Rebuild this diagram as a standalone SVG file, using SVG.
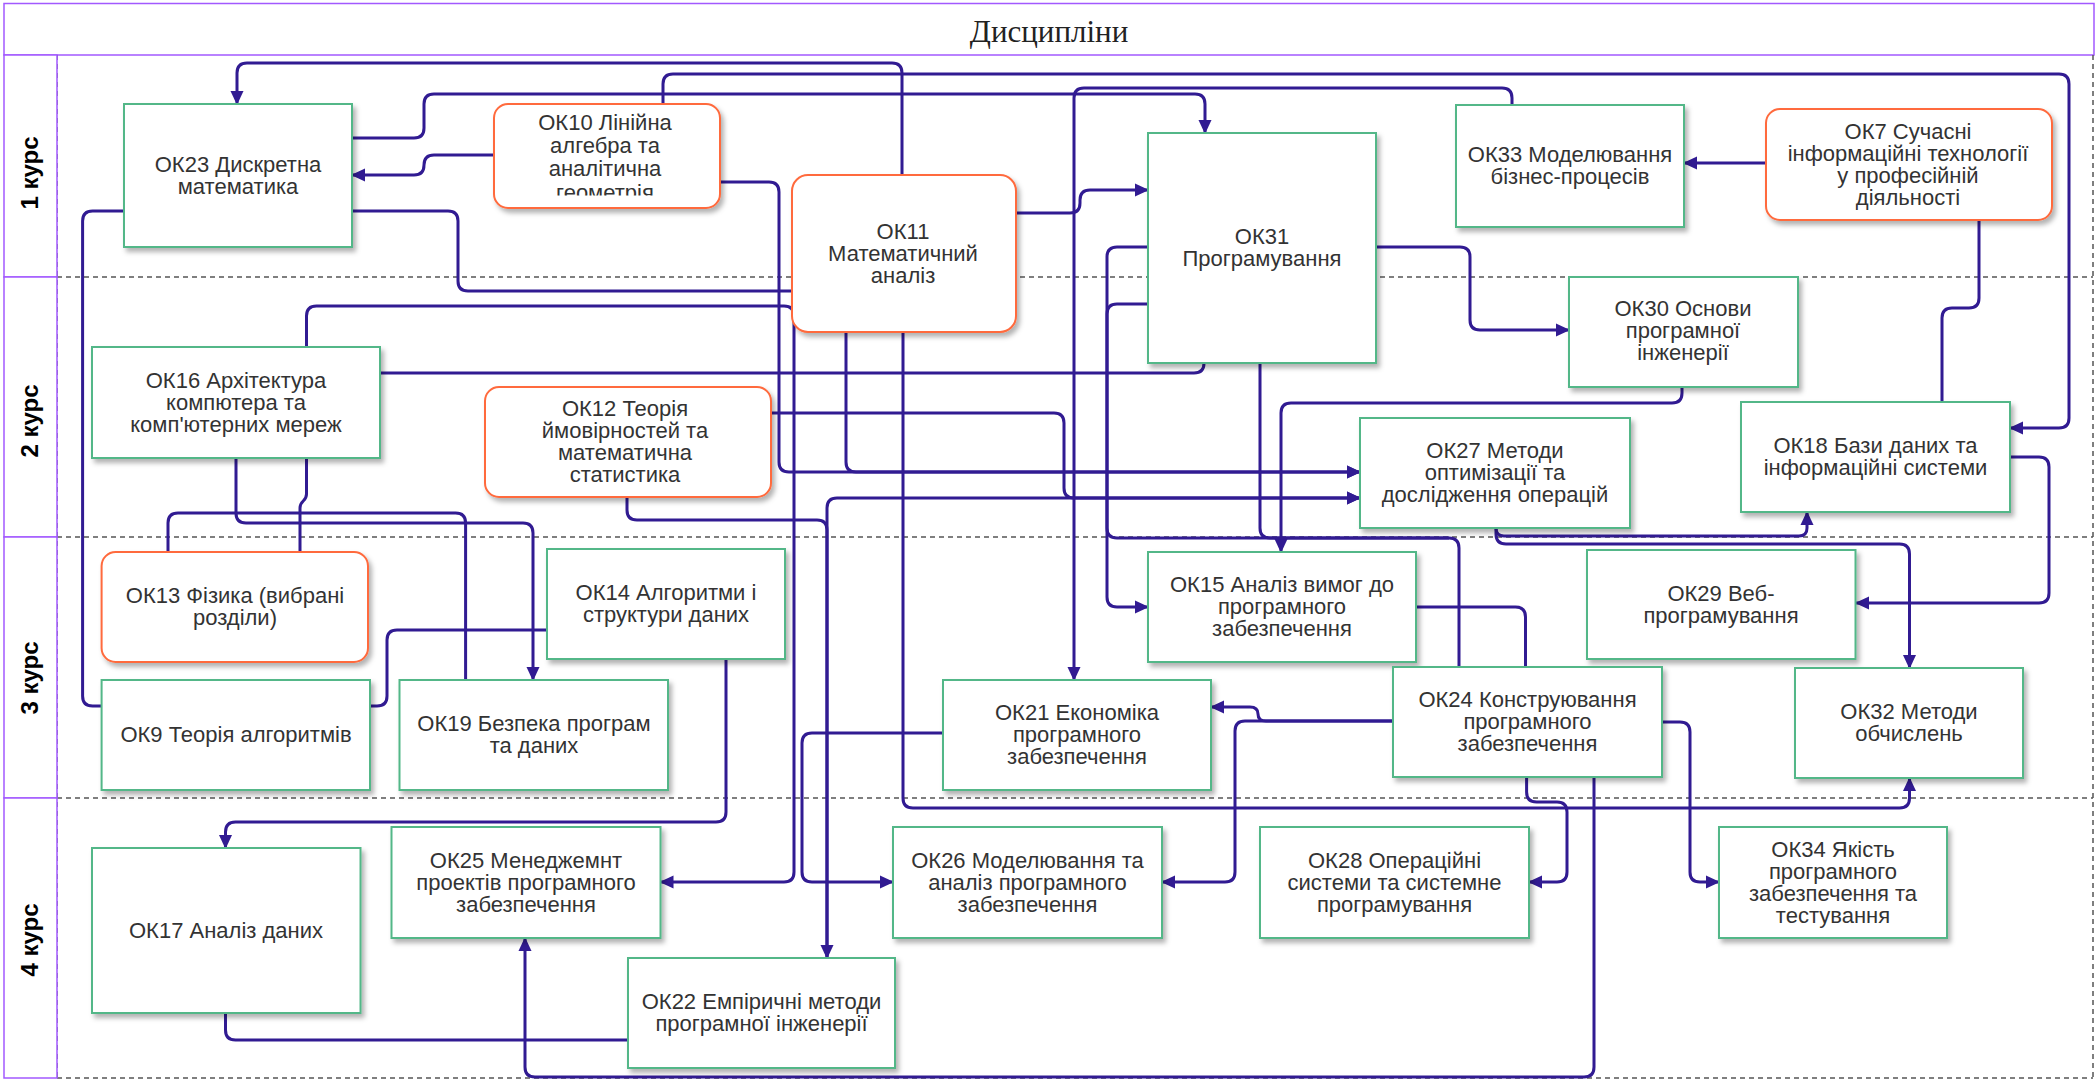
<svg xmlns="http://www.w3.org/2000/svg" width="2100" height="1081" viewBox="0 0 2100 1081">
<defs>
<filter id="sh" x="-10%" y="-10%" width="130%" height="140%">
<feDropShadow dx="3" dy="4" stdDeviation="2.5" flood-color="#000" flood-opacity="0.3"/>
</filter>
<marker id="arr" viewBox="0 0 14 14" refX="13" refY="7" markerWidth="14" markerHeight="14" markerUnits="userSpaceOnUse" orient="auto">
<path d="M0,0.5 L14,7 L0,13.5 z" fill="#311B92"/>
</marker>
<clipPath id="clip10"><rect x="494" y="104" width="226" height="91.5"/></clipPath>
<style>
.box{fill:#fff;stroke:#52B788;stroke-width:2;filter:url(#sh)}
.obox{fill:#fff;stroke:#FF6A3D;stroke-width:2;filter:url(#sh)}
.t{font-family:"Liberation Sans",Arial,sans-serif;font-size:22px;fill:#333;text-anchor:middle}
.c{fill:none;stroke:#311B92;stroke-width:3;stroke-linejoin:round}
.a{marker-end:url(#arr)}
.lane{fill:none;stroke:#555;stroke-width:1.5;stroke-dasharray:5,4}
.lbl{fill:#fff;stroke:#A259FF;stroke-width:1.5}
.lt{font-family:"Liberation Sans",Arial,sans-serif;font-size:24px;font-weight:bold;fill:#000;text-anchor:middle}
</style>
</defs>
<rect width="2100" height="1081" fill="#fff"/>
<g id="frame">
<rect class="lbl" x="4" y="3.5" width="2090" height="51.5"/>
<text x="1049" y="42" font-family="Liberation Serif, serif" font-size="31" fill="#222" text-anchor="middle">Дисципліни</text>
<path class="lane" d="M57,277 H2093 M57,537 H2093 M57,798 H2093 M57,1078 H2093 M57,55 V1078 M2093,55 V1078"/>
<rect class="lbl" x="4" y="55" width="53" height="222"/>
<rect class="lbl" x="4" y="277" width="53" height="260"/>
<rect class="lbl" x="4" y="537" width="53" height="261"/>
<rect class="lbl" x="4" y="798" width="53" height="280"/>
<text class="lt" transform="translate(38,173) rotate(-90)">1 курс</text>
<text class="lt" transform="translate(38,421) rotate(-90)">2 курс</text>
<text class="lt" transform="translate(38,678) rotate(-90)">3 курс</text>
<text class="lt" transform="translate(38,940) rotate(-90)">4 курс</text>
</g>
<g id="connectors">
<path class="c a" d="M902,175 L902,73 Q902,63 892,63 L247,63 Q237,63 237,73 L237,104"/>
<path class="c a" d="M352,138 L414,138 Q424,138 424,128 L424,104 Q424,94 434,94 L1195,94 Q1205,94 1205,104 L1205,133"/>
<path class="c a" d="M494,155 L434,155 Q424,155 424,165 Q424,175 414,175 L352,175"/>
<path class="c a" d="M663,104 L663,84 Q663,74 673,74 L2059,74 Q2069,74 2069,84 L2069,418 Q2069,428 2059,428 L2010,428"/>
<path class="c a" d="M1512,105 L1512,98 Q1512,88 1502,88 L1084,88 Q1074,88 1074,98 L1074,680"/>
<path class="c a" d="M1016,213 L1070,213 Q1080,213 1080,203 L1080,200 Q1080,190 1090,190 L1148,190"/>
<path class="c a" d="M1376,247 L1460,247 Q1470,247 1470,257 L1470,320 Q1470,330 1480,330 L1569,330"/>
<path class="c a" d="M1766,163 L1684,163"/>
<path class="c" d="M1979,220 L1979,298 Q1979,308 1969,308 L1952,308 Q1942,308 1942,318 L1942,402"/>
<path class="c a" d="M2010,457 L2039,457 Q2049,457 2049,467 L2049,593 Q2049,603 2039,603 L1856,603"/>
<path class="c a" d="M1496,528 Q1496,536 1504,536 L1799,536 Q1807,536 1807,528 L1807,512"/>
<path class="c a" d="M1496,528 L1496,534 Q1496,544 1506,544 L1899.5,544 Q1909.5,544 1909.5,554 L1909.5,668"/>
<path class="c a" d="M1682,387 L1682,393 Q1682,403 1672,403 L1291,403 Q1281,403 1281,413 L1281,552"/>
<path class="c a" d="M1148,247 L1117,247 Q1107,247 1107,257 L1107,597 Q1107,607 1117,607 L1148,607"/>
<path class="c" d="M1148,304 L1117,304 Q1107,304 1107,314 L1107,528 Q1107,538 1117,538 L1449,538 Q1459,538 1459,548 L1459,667"/>
<path class="c" d="M1260,363 L1260,528 Q1260,538 1270,538 L1449,538"/>
<path class="c" d="M380,373 L1194,373 Q1204,373 1204,363"/>
<path class="c" d="M1416,607 L1515.5,607 Q1525.5,607 1525.5,617 L1525.5,667"/>
<path class="c a" d="M1393,721 L1266,721 Q1258,721 1258,714 Q1258,707 1250,707 L1211,707"/>
<path class="c a" d="M1393,721 L1245,721 Q1235,721 1235,731 L1235,872 Q1235,882 1225,882 L1162,882"/>
<path class="c a" d="M1526.6,777 L1526.6,792 Q1526.6,802 1536.6,802 L1557,802 Q1567,802 1567,812 L1567,872 Q1567,882 1557,882 L1529,882"/>
<path class="c a" d="M1662,722 L1680,722 Q1690,722 1690,732 L1690,872 Q1690,882 1700,882 L1719,882"/>
<path class="c a" d="M1594,777 L1594,1067 Q1594,1077 1584,1077 L535,1077 Q525,1077 525,1067 L525,938"/>
<path class="c a" d="M903,332 L903,798 Q903,808 913,808 L1899.5,808 Q1909.5,808 1909.5,798 L1909.5,778"/>
<path class="c a" d="M943,733 L812,733 Q802,733 802,743 L802,872 Q802,882 812,882 L893,882"/>
<path class="c a" d="M306.5,347 L306.5,316 Q306.5,306 316.5,306 L784,306 Q794,306 794,316 L794,872 Q794,882 784,882 L660.5,882"/>
<path class="c a" d="M726,659 L726,812 Q726,822 716,822 L235.5,822 Q225.5,822 225.5,832 L225.5,848"/>
<path class="c" d="M225.5,1013 L225.5,1030 Q225.5,1040 235.5,1040 L628,1040"/>
<path class="c a" d="M627,497 L627,510 Q627,520 637,520 L817,520 Q827,520 827,530 L827,958"/>
<path class="c a" d="M827,958 L827,508 Q827,498 837,498 L1360,498"/>
<path class="c a" d="M771,413 L1054,413 Q1064,413 1064,423 L1064,488 Q1064,498 1074,498 L1360,498"/>
<path class="c a" d="M720,182 L769,182 Q779,182 779,192 L779,462 Q779,472 789,472 L1360,472"/>
<path class="c a" d="M846,332 L846,462 Q846,472 856,472 L1360,472"/>
<path class="c" d="M352,211 L448,211 Q458,211 458,221 L458,281 Q458,291 468,291 L792,291"/>
<path class="c" d="M124,211 L92.6,211 Q82.6,211 82.6,221 L82.6,696 Q82.6,706 92.6,706 L101.6,706"/>
<path class="c" d="M370,706 L377,706 Q387,706 387,696 L387,640 Q387,630 397,630 L547,630"/>
<path class="c a" d="M236,458 L236,513 Q236,523 246,523 L523,523 Q533,523 533,533 L533,680"/>
<path class="c" d="M306.5,458 L306.5,494 C306.5,502 300,500 300,508 L300,552"/>
<path class="c" d="M168,552 L168,523 Q168,513 178,513 L455.6,513 Q465.6,513 465.6,523 L465.6,680"/>
</g>
<g id="OK23"><rect class="box" x="124" y="104" width="228" height="143"/><text class="t"><tspan x="238" y="171.5">ОК23 Дискретна</tspan><tspan x="238" y="193.5">математика</tspan></text></g>
<g id="OK10"><rect class="obox" x="494" y="104" width="226" height="104" rx="14"/><text class="t" clip-path="url(#clip10)"><tspan x="605" y="130">ОК10 Лінійна</tspan><tspan x="605" y="153">алгебра та</tspan><tspan x="605" y="176">аналітична</tspan><tspan x="605" y="200">геометрія</tspan></text></g>
<g id="OK11"><rect class="obox" x="792" y="175" width="224" height="157" rx="16"/><text class="t"><tspan x="903" y="238.5">ОК11</tspan><tspan x="903" y="260.5">Математичний</tspan><tspan x="903" y="282.5">аналіз</tspan></text></g>
<g id="OK31"><rect class="box" x="1148" y="133" width="228" height="230"/><text class="t"><tspan x="1262" y="244">ОК31</tspan><tspan x="1262" y="266">Програмування</tspan></text></g>
<g id="OK33"><rect class="box" x="1456" y="105" width="228" height="122"/><text class="t"><tspan x="1570" y="162">ОК33 Моделювання</tspan><tspan x="1570" y="184">бізнес-процесів</tspan></text></g>
<g id="OK7"><rect class="obox" x="1766" y="109" width="286" height="111" rx="14"/><text class="t"><tspan x="1908" y="138.5">ОК7 Сучасні</tspan><tspan x="1908" y="160.5">інформаційні технології</tspan><tspan x="1908" y="182.5">у професійній</tspan><tspan x="1908" y="204.5">діяльності</tspan></text></g>
<g id="OK30"><rect class="box" x="1569" y="277" width="229" height="110"/><text class="t"><tspan x="1683" y="316">ОК30 Основи</tspan><tspan x="1683" y="338">програмної</tspan><tspan x="1683" y="360">інженерії</tspan></text></g>
<g id="OK16"><rect class="box" x="92" y="347" width="288" height="111"/><text class="t"><tspan x="236" y="387.5">ОК16 Архітектура</tspan><tspan x="236" y="409.5">компютера та</tspan><tspan x="236" y="431.5">комп'ютерних мереж</tspan></text></g>
<g id="OK12"><rect class="obox" x="485" y="387" width="286" height="110" rx="14"/><text class="t"><tspan x="625" y="416">ОК12 Теорія</tspan><tspan x="625" y="438">ймовірностей та</tspan><tspan x="625" y="460">математична</tspan><tspan x="625" y="482">статистика</tspan></text></g>
<g id="OK27"><rect class="box" x="1360" y="418" width="270" height="110"/><text class="t"><tspan x="1495" y="458">ОК27 Методи</tspan><tspan x="1495" y="480">оптимізації та</tspan><tspan x="1495" y="502">дослідження операцій</tspan></text></g>
<g id="OK18"><rect class="box" x="1741" y="402" width="269" height="110"/><text class="t"><tspan x="1875.5" y="453">ОК18 Бази даних та</tspan><tspan x="1875.5" y="475">інформаційні системи</tspan></text></g>
<g id="OK13"><rect class="obox" x="101.6" y="552" width="266.4" height="110" rx="14"/><text class="t"><tspan x="235" y="603">ОК13 Фізика (вибрані</tspan><tspan x="235" y="625">розділи)</tspan></text></g>
<g id="OK14"><rect class="box" x="547" y="549" width="238" height="110"/><text class="t"><tspan x="666" y="600">ОК14 Алгоритми і</tspan><tspan x="666" y="622">структури даних</tspan></text></g>
<g id="OK15"><rect class="box" x="1148" y="552" width="268" height="110"/><text class="t"><tspan x="1282" y="592">ОК15 Аналіз вимог до</tspan><tspan x="1282" y="614">програмного</tspan><tspan x="1282" y="636">забезпечення</tspan></text></g>
<g id="OK29"><rect class="box" x="1587" y="550" width="268.5" height="109"/><text class="t"><tspan x="1721" y="600.5">ОК29 Веб-</tspan><tspan x="1721" y="622.5">програмування</tspan></text></g>
<g id="OK9"><rect class="box" x="101.6" y="680" width="268.4" height="110"/><text class="t" x="236" y="742">ОК9 Теорія алгоритмів</text></g>
<g id="OK19"><rect class="box" x="399.5" y="680" width="268.5" height="110"/><text class="t"><tspan x="534" y="731">ОК19 Безпека програм</tspan><tspan x="534" y="753">та даних</tspan></text></g>
<g id="OK21"><rect class="box" x="943" y="680" width="268" height="110"/><text class="t"><tspan x="1077" y="720">ОК21 Економіка</tspan><tspan x="1077" y="742">програмного</tspan><tspan x="1077" y="764">забезпечення</tspan></text></g>
<g id="OK24"><rect class="box" x="1393" y="667" width="269" height="110"/><text class="t"><tspan x="1527.5" y="707">ОК24 Конструювання</tspan><tspan x="1527.5" y="729">програмного</tspan><tspan x="1527.5" y="751">забезпечення</tspan></text></g>
<g id="OK32"><rect class="box" x="1795" y="668" width="228" height="110"/><text class="t"><tspan x="1909" y="719">ОК32 Методи</tspan><tspan x="1909" y="741">обчислень</tspan></text></g>
<g id="OK17"><rect class="box" x="92" y="848" width="268.5" height="165"/><text class="t" x="226" y="937.5">ОК17 Аналіз даних</text></g>
<g id="OK25"><rect class="box" x="391.5" y="827" width="269" height="111"/><text class="t"><tspan x="526" y="867.5">ОК25 Менеджемнт</tspan><tspan x="526" y="889.5">проектів програмного</tspan><tspan x="526" y="911.5">забезпечення</tspan></text></g>
<g id="OK26"><rect class="box" x="893" y="827" width="269" height="111"/><text class="t"><tspan x="1027.5" y="867.5">ОК26 Моделювання та</tspan><tspan x="1027.5" y="889.5">аналіз програмного</tspan><tspan x="1027.5" y="911.5">забезпечення</tspan></text></g>
<g id="OK28"><rect class="box" x="1260" y="827" width="269" height="111"/><text class="t"><tspan x="1394.5" y="867.5">ОК28 Операційні</tspan><tspan x="1394.5" y="889.5">системи та системне</tspan><tspan x="1394.5" y="911.5">програмування</tspan></text></g>
<g id="OK34"><rect class="box" x="1719" y="827" width="228" height="111"/><text class="t"><tspan x="1833" y="856.5">ОК34 Якість</tspan><tspan x="1833" y="878.5">програмного</tspan><tspan x="1833" y="900.5">забезпечення та</tspan><tspan x="1833" y="922.5">тестування</tspan></text></g>
<g id="OK22"><rect class="box" x="628" y="958" width="267" height="110"/><text class="t"><tspan x="761.5" y="1009">ОК22 Емпіричні методи</tspan><tspan x="761.5" y="1031">програмної інженерії</tspan></text></g>
</svg>
